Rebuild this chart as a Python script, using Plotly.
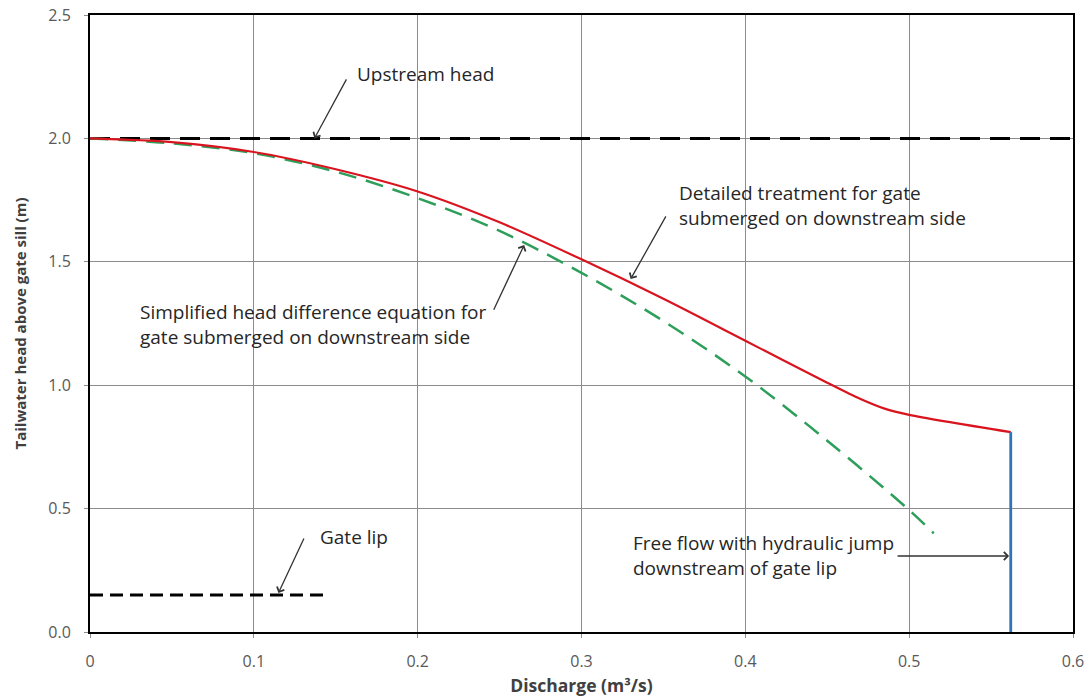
import plotly.graph_objects as go

# Detailed treatment (red)
red_x = [0.0, 0.05, 0.10, 0.15, 0.20, 0.25, 0.30, 0.35, 0.40, 0.45, 0.47, 0.485, 0.50, 0.562]
red_y = [2.0, 1.985, 1.945, 1.875, 1.785, 1.66, 1.51, 1.35, 1.18, 1.01, 0.945, 0.905, 0.88, 0.81]

# Simplified head difference equation (green dashed)
green_x = [0.0, 0.05, 0.10, 0.15, 0.20, 0.25, 0.30, 0.35, 0.40, 0.45, 0.50, 0.515]
green_y = [2.0, 1.98, 1.94, 1.865, 1.758, 1.625, 1.455, 1.26, 1.035, 0.775, 0.494, 0.40]

# Free flow (blue vertical)
blue_x = [0.562, 0.562]
blue_y = [0.81, 0.0]

# Reference levels
upstream_x = [0.0, 0.6]
upstream_y = [2.0, 2.0]
gatelip_x = [0.0, 0.146]
gatelip_y = [0.15, 0.15]

x_ticks = [0, 0.1, 0.2, 0.3, 0.4, 0.5, 0.6]
x_ticklabels = ["0", "0.1", "0.2", "0.3", "0.4", "0.5", "0.6"]
y_ticks = [0, 0.5, 1.0, 1.5, 2.0, 2.5]
y_ticklabels = ["0.0", "0.5", "1.0", "1.5", "2.0", "2.5"]

FONT = "Open Sans"
TXT = "#262626"

fig = go.Figure()
fig.add_trace(go.Scatter(x=upstream_x, y=upstream_y, mode="lines",
                         line=dict(color="black", width=3, dash="20px,10px"), hoverinfo="skip"))
fig.add_trace(go.Scatter(x=gatelip_x, y=gatelip_y, mode="lines",
                         line=dict(color="black", width=3, dash="13px,7px"), hoverinfo="skip"))
fig.add_trace(go.Scatter(x=green_x, y=green_y, mode="lines", line_shape="spline",
                         line=dict(color="#2E9E5B", width=2.5, dash="18px,10px")))
fig.add_trace(go.Scatter(x=red_x, y=red_y, mode="lines", line_shape="spline",
                         line=dict(color="#D9141E", width=2.2, smoothing=0.8)))
fig.add_trace(go.Scatter(x=blue_x, y=blue_y, mode="lines",
                         line=dict(color="#2E75B6", width=2.8)))

def arrow(tx, ty, hx, hy):
    fig.add_annotation(x=hx, y=hy, ax=tx, ay=ty, xref="x", yref="y", axref="x", ayref="y",
                       text="", showarrow=True, arrowhead=4, arrowsize=1.2, arrowwidth=1.3,
                       arrowcolor="#333333")

def label(x, y, text, anchor="left"):
    fig.add_annotation(x=x, y=y, xref="x", yref="y", text=text, showarrow=False,
                       xanchor=anchor, yanchor="middle", align="left",
                       font=dict(family=FONT, size=19, color=TXT))

arrow(0.157, 2.245, 0.137, 2.0)
label(0.162, 2.26, "Upstream head")

arrow(0.352, 1.69, 0.330, 1.43)
label(0.358, 1.73, "Detailed treatment for gate<br>submerged on downstream side")

arrow(0.246, 1.30, 0.265, 1.568)
label(0.029, 1.244, "Simplified head difference equation for<br>gate submerged on downstream side")

arrow(0.131, 0.385, 0.115, 0.158)
label(0.139, 0.385, "Gate lip")

arrow(0.492, 0.308, 0.561, 0.308)
label(0.330, 0.312, "Free flow with hydraulic jump<br>downstream of gate lip")

axis_common = dict(showline=True, linecolor="black", linewidth=2, mirror=True,
                   showgrid=True, gridcolor="#8c8c8c", gridwidth=1, zeroline=False,
                   ticks="outside", ticklen=4, tickcolor="#8c8c8c",
                   ticklabelstandoff=10, automargin=False,
                   tickfont=dict(family=FONT, size=16, color="#595959"))

fig.update_xaxes(range=[0, 0.6], tickvals=x_ticks, ticktext=x_ticklabels,
                 title=dict(text="<b>Discharge (m³/s)</b>", font=dict(family=FONT, size=17.5, color="#404040"), standoff=12),
                 **axis_common)
fig.update_yaxes(range=[0, 2.5], tickvals=y_ticks, ticktext=y_ticklabels,
                 title=dict(text="<b>Tailwater head above gate sill (m)</b>", font=dict(family=FONT, size=15, color="#404040"), standoff=18),
                 **axis_common)

fig.update_layout(width=1089, height=697, showlegend=False,
                  margin=dict(l=90, r=16, t=15, b=65),
                  plot_bgcolor="white", paper_bgcolor="white")

fig.write_html("out.html")
